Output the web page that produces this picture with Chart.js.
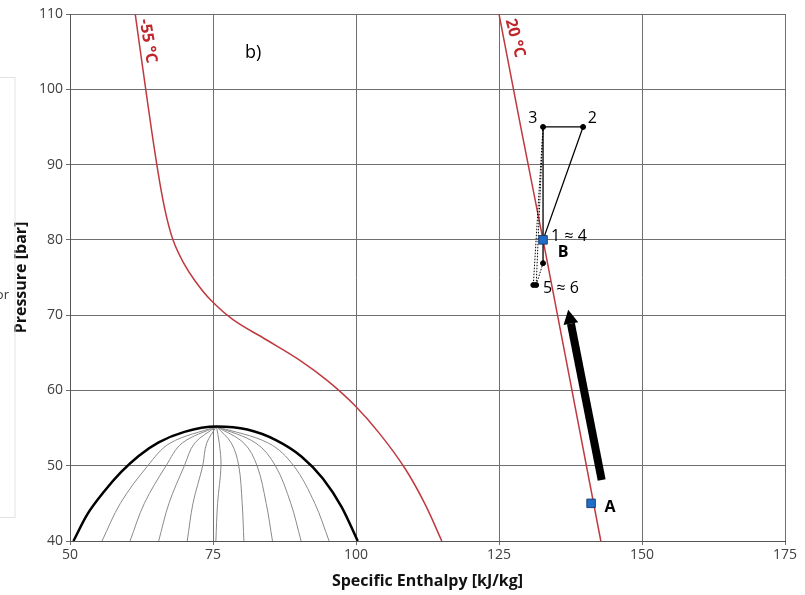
<!DOCTYPE html>
<html>
<head>
<meta charset="utf-8">
<script src="https://cdn.jsdelivr.net/npm/chart.js@4"></script>
<style>
  body { margin: 0; background: #fff; }
  #wrap { width: 805px; height: 595px; position: relative; }
</style>
</head>
<body>
<div id="wrap"><canvas id="chart"></canvas></div>
<script>
// axis ticks
const xTicks = [50, 75, 100, 125, 150, 175];
const yTicks = [40, 50, 60, 70, 80, 90, 100, 110];

// -55 °C isotherm
const isoM55H = [61.4, 63.5, 65.2, 66.6, 68.0, 69.8, 71.9, 74.6, 78.5, 84.4, 90.2, 95.0, 99.8, 104.2, 108.6, 112.0, 115.0];
const isoM55P = [110, 98.6, 89.9, 84.0, 80.0, 77.0, 74.5, 72.0, 69.4, 66.7, 64.0, 61.3, 58.0, 54.2, 49.6, 45.0, 40];

// 20 °C isotherm
const iso20H = [125.0, 128.8, 132.7, 136.5, 142.8];
const iso20P = [110, 95, 80, 65, 40];

// two-phase dome
const domeH = [50.6, 53.0, 56.0, 59.0, 62.0, 65.5, 70.0, 75.6, 81.0, 86.0, 90.5, 94.2, 97.5, 100.3];
const domeP = [40, 43.5, 46.6, 49.2, 51.3, 53.1, 54.5, 55.2, 54.8, 53.4, 51.2, 48.3, 44.5, 40];

// constant quality lines, points at p = 55.2, 53, 50, 45, 40
const qualityP = [55.2, 53, 50, 45, 40];
const qualityH = [
  [75.6, 67.5, 63.6, 58.8, 55.6],
  [75.6, 69.6, 66.8, 63.0, 60.5],
  [75.6, 71.8, 70.0, 67.3, 65.5],
  [75.6, 73.9, 73.2, 71.5, 70.5],
  [75.6, 76.1, 76.4, 75.8, 75.5],
  [75.6, 78.2, 79.5, 80.1, 80.4],
  [75.6, 80.4, 82.7, 84.3, 85.4],
  [75.6, 82.5, 85.9, 88.6, 90.4],
  [75.6, 84.7, 89.1, 92.8, 95.3]
];

// cycle: 1 -> 2 -> 3 -> 1 -> lower point
const cycleH = [132.7, 139.7, 132.7, 132.7, 132.7];
const cycleP = [80, 95, 95, 80, 76.9];
// dotted connections
const dottedH = [[132.7, 131.0], [132.7, 131.5], [132.7, 131.5]];
const dottedP = [[95, 74.0], [95, 74.0], [76.9, 74.0]];
// black vertex dots
const dotH = [132.7, 139.7, 132.7, 131.0, 131.5];
const dotP = [95, 95, 76.9, 74.0, 74.0];
// blue square states A and B
const stateH = [132.7, 141.1];
const stateP = [80, 45];

// thick arrow (tail, head)
const arrowH = [142.95, 137.1];
const arrowP = [48.1, 70.7];

// text annotations
const notes = [
  { text: '-55 °C', h: 63.6, p: 106.4, rot: 80.5, bold: true, color: '#c0272d', align: 'center' },
  { text: '20 °C', h: 127.8, p: 106.8, rot: 75, bold: true, color: '#c0272d', align: 'center' },
  { text: 'b)', h: 82.0, p: 104.9, size: 18, color: '#000', align: 'center' },
  { text: '3', h: 130.9, p: 96.1, color: '#000', align: 'center' },
  { text: '2', h: 141.3, p: 96.1, color: '#000', align: 'center' },
  { text: '1 ≈ 4', h: 134.1, p: 80.5, color: '#000', align: 'left' },
  { text: 'B', h: 136.2, p: 78.3, bold: true, color: '#000', align: 'center' },
  { text: '5 ≈ 6', h: 132.7, p: 73.6, color: '#000', align: 'left' },
  { text: 'A', h: 144.4, p: 44.4, bold: true, color: '#000', align: 'center' }
];

const FONT = "'Open Sans', 'Noto Sans', sans-serif";

function pts(hs, ps) {
  return hs.map((h, i) => ({ x: h, y: ps[i] }));
}

const datasets = [];

qualityH.forEach(q => {
  datasets.push({
    data: pts(q, qualityP), showLine: true, borderColor: '#8a8a8a', borderWidth: 1,
    pointRadius: 0, tension: 0.35, order: 9
  });
});

datasets.push({
  data: pts(domeH, domeP), showLine: true, borderColor: '#000', borderWidth: 2.5,
  pointRadius: 0, cubicInterpolationMode: 'monotone', order: 8
});
datasets.push({
  data: pts(isoM55H, isoM55P), showLine: true, borderColor: '#c0393f', borderWidth: 1.5,
  pointRadius: 0, tension: 0.4, order: 7
});
datasets.push({
  data: pts(iso20H, iso20P), showLine: true, borderColor: '#c0393f', borderWidth: 1.5,
  pointRadius: 0, order: 7
});
dottedH.forEach((d, i) => {
  datasets.push({
    data: pts(d, dottedP[i]), showLine: true, borderColor: '#000', borderWidth: 1,
    borderDash: [1.5, 1.5], pointRadius: 0, order: 5
  });
});
datasets.push({
  data: pts(cycleH, cycleP), showLine: true, borderColor: '#000', borderWidth: 1.3,
  pointRadius: 0, order: 4
});
datasets.push({
  data: pts(dotH, dotP), showLine: false, pointRadius: 2.5,
  pointBackgroundColor: '#000', pointBorderColor: '#000', order: 2
});
datasets.push({
  data: pts(stateH, stateP), showLine: false, pointStyle: 'rect', pointRadius: 6,
  pointBackgroundColor: '#1f6ec8', pointBorderColor: '#1c3f70', pointBorderWidth: 1, order: 1
});

const overlay = {
  id: 'overlay',
  afterDatasetsDraw(chart) {
    const ctx = chart.ctx;
    const xs = chart.scales.x, ys = chart.scales.y;

    // arrow
    const x0 = xs.getPixelForValue(arrowH[0]), y0 = ys.getPixelForValue(arrowP[0]);
    const x1 = xs.getPixelForValue(arrowH[1]), y1 = ys.getPixelForValue(arrowP[1]);
    const ang = Math.atan2(y1 - y0, x1 - x0);
    const headLen = 14, headW = 7.5;
    const bx = x1 - headLen * Math.cos(ang), by = y1 - headLen * Math.sin(ang);
    ctx.save();
    ctx.strokeStyle = '#000';
    ctx.lineWidth = 8;
    ctx.beginPath();
    ctx.moveTo(x0, y0);
    ctx.lineTo(bx, by);
    ctx.stroke();
    ctx.fillStyle = '#000';
    ctx.beginPath();
    ctx.moveTo(x1, y1);
    ctx.lineTo(bx + headW * Math.sin(ang), by - headW * Math.cos(ang));
    ctx.lineTo(bx - headW * Math.sin(ang), by + headW * Math.cos(ang));
    ctx.closePath();
    ctx.fill();
    ctx.restore();

    // notes
    notes.forEach(n => {
      const px = xs.getPixelForValue(n.h), py = ys.getPixelForValue(n.p);
      ctx.save();
      ctx.translate(px, py);
      if (n.rot) ctx.rotate(n.rot * Math.PI / 180);
      ctx.font = (n.bold ? 'bold ' : '') + (n.size || 16) + 'px ' + FONT;
      ctx.fillStyle = n.color;
      ctx.textAlign = n.align;
      ctx.textBaseline = 'middle';
      ctx.fillText(n.text, 0, 0);
      ctx.restore();
    });

    // clipped legend box on the far left
    ctx.save();
    ctx.strokeStyle = '#e2e2e2';
    ctx.lineWidth = 1;
    ctx.strokeRect(-2, 77.5, 17, 440);
    ctx.font = '13px ' + FONT;
    ctx.fillStyle = '#333';
    ctx.textAlign = 'right';
    ctx.textBaseline = 'middle';
    ctx.fillText('or', 9, 295);
    ctx.restore();
  }
};

new Chart(document.getElementById('chart'), {
  type: 'scatter',
  data: { datasets },
  plugins: [overlay],
  options: {
    responsive: true,
    maintainAspectRatio: false,
    animation: false,
    layout: { padding: { top: 14, right: 20, left: 0, bottom: 0 } },
    plugins: { legend: { display: false }, tooltip: { enabled: false } },
    scales: {
      x: {
        type: 'linear', min: 50, max: 175,
        afterBuildTicks: s => { s.ticks = xTicks.map(v => ({ value: v })); },
        afterFit: s => { s.height = 54; },
        grid: { color: '#6f6f6f', lineWidth: 1, tickLength: 4 },
        border: { color: '#555', width: 1 },
        ticks: { color: '#404040', padding: 2, maxRotation: 0, font: { family: FONT, size: 14 } },
        title: {
          display: true, text: 'Specific Enthalpy [kJ/kg]', color: '#111',
          padding: { top: 0, bottom: 4 }, font: { family: FONT, size: 16, weight: 'bold' }
        }
      },
      y: {
        type: 'linear', min: 40, max: 110,
        afterBuildTicks: s => { s.ticks = yTicks.map(v => ({ value: v })); },
        afterFit: s => { s.width = 70; },
        grid: { color: '#6f6f6f', lineWidth: 1, tickLength: 4 },
        border: { color: '#555', width: 1 },
        ticks: { color: '#404040', padding: 3, font: { family: FONT, size: 14 } },
        title: {
          display: true, text: 'Pressure [bar]', color: '#111',
          padding: { top: 12, bottom: 0 }, font: { family: FONT, size: 16, weight: 'bold' }
        }
      }
    }
  }
});
</script>
</body>
</html>
